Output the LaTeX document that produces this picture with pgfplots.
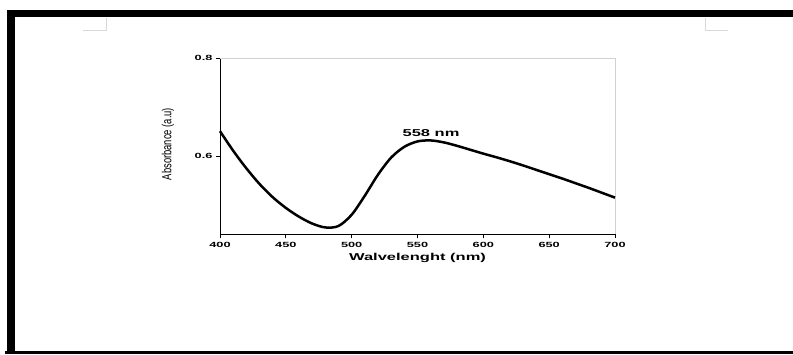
\documentclass[border=0pt]{standalone}
\usepackage{fontspec}
\usepackage{graphicx}
\usepackage{pgfplots}
\pgfplotsset{compat=1.18}
\setmainfont{Liberation Sans}
\newfontfamily\wideb[FakeStretch=1.7]{Liberation Sans Bold}
\newfontfamily\widel[FakeStretch=1.65]{Liberation Sans Bold}

% absorbance spectrum
\pgfplotstableread{
nm   abs
400  0.651
410  0.611
420  0.575
430  0.543
440  0.516
450  0.494
460  0.476
470  0.462
480  0.454
490  0.457
500  0.480
510  0.519
520  0.562
530  0.597
540  0.619
550  0.630
560  0.632
570  0.628
580  0.621
590  0.613
600  0.605
610  0.5975
620  0.5895
630  0.581
640  0.572
650  0.563
660  0.554
670  0.5445
680  0.535
690  0.525
700  0.515
}\spectrum

\begin{document}
\begin{tikzpicture}[x=1pt,y=1pt]
\path[use as bounding box] (0,0) rectangle (793,354);
% page frame
\fill[black] (7,336.5) rectangle (793,344);
\fill[black] (6.5,0) rectangle (14.5,344);
\fill[black] (5,0) rectangle (793,3);
% crop marks
\draw[black!15,line width=0.8pt] (83,324) -- (106.7,324) -- (106.7,336);
\draw[black!15,line width=0.8pt] (705,336) -- (705,324) -- (728,324);

\begin{axis}[
  at={(220pt,119.7pt)}, anchor=south west,
  width=395pt, height=176pt, scale only axis,
  xmin=400, xmax=700, ymin=0.44, ymax=0.8,
  xtick={400,450,...,700}, ytick={0.6,0.8},
  axis x line*=bottom, axis y line*=left,
  axis line style={-,black,line width=0.9pt},
  tick align=outside, major tick length=4pt,
  tick style={black,line width=0.8pt},
  /pgf/number format/assume math mode=true,
  /pgf/number format/fixed,
  ticklabel style={font=\wideb\fontsize{7.5}{9}\selectfont},
  xticklabel style={yshift=0pt},
  xlabel={Walvelenght (nm)},
  xlabel style={font=\widel\fontsize{10}{12}\selectfont, at={(axis description cs:0.5,-0.133)}, anchor=center},
  ylabel={\scalebox{1}[1.4]{Absorbance (a.u)}},
  ylabel style={font=\fontsize{9.4}{11}\selectfont, at={(axis description cs:-0.1316,0.513)}, anchor=center},
  clip=false,
]
\draw[black!18,line width=0.8pt] (rel axis cs:0,1) -- (rel axis cs:1,1) -- (rel axis cs:1,0);
\addplot[black, line width=2.5pt, smooth] table[x=nm,y=abs] {\spectrum};
\node[font=\widel\fontsize{10}{12}\selectfont, anchor=center] at (axis cs:560.3,0.648) {558 nm};
\end{axis}
\end{tikzpicture}
\end{document}
